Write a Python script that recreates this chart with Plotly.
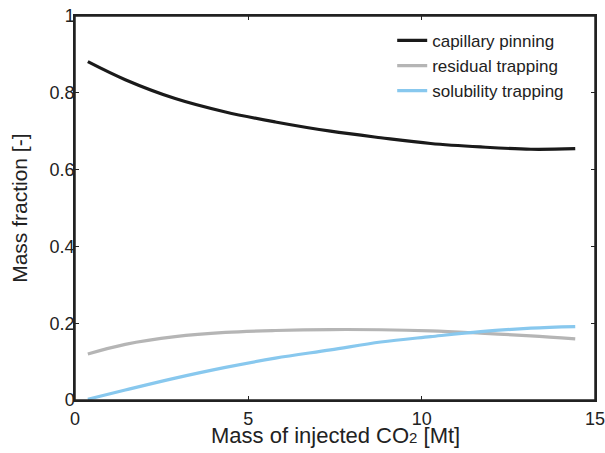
import plotly.graph_objects as go

x_vals = [0.37, 1.45, 2.89, 4.34, 5.78, 7.37, 8.82, 10.26, 11.7, 13.15, 14.43]
capillary = [0.881, 0.834, 0.785, 0.750, 0.724, 0.700, 0.683, 0.668, 0.659, 0.653, 0.6545]
residual = [0.120, 0.145, 0.165, 0.176, 0.181, 0.1835, 0.183, 0.180, 0.174, 0.167, 0.159]
solubility = [0.002, 0.026, 0.057, 0.085, 0.109, 0.1305, 0.151, 0.165, 0.178, 0.187, 0.191]

x_ticks = [0, 5, 10, 15]
y_ticks = [0, 0.2, 0.4, 0.6, 0.8, 1]
y_tick_text = ["0", "0.2", "0.4", "0.6", "0.8", "1"]

x_title = "Mass of injected CO<span style='font-size:15px'>2</span> [Mt]"
y_title = "Mass fraction [-]"

series = [
    ("capillary pinning", capillary, "#1a1a1a"),
    ("residual trapping", residual, "#b5b5b5"),
    ("solubility trapping", solubility, "#88c8ee"),
]

fig = go.Figure()
for name, ys, color in series:
    fig.add_trace(go.Scatter(x=x_vals, y=ys, mode="lines", name=name,
                             line=dict(color=color, width=3.2, shape="spline", smoothing=1.0)))

font_family = "Liberation Sans, Arial, Helvetica, sans-serif"
axis_common = dict(showgrid=False, zeroline=False, showline=True, linecolor="#222",
                   linewidth=1.5, mirror="ticks", ticks="inside", ticklen=4,
                   tickcolor="#222", tickwidth=1, automargin=False,
                   ticklabeloverflow="allow",
                   tickfont=dict(size=18, color="#222", family=font_family))

fig.update_layout(
    width=605, height=453,
    margin=dict(l=75, r=10, t=16, b=53),
    paper_bgcolor="white", plot_bgcolor="white",
    font=dict(family=font_family, color="#222"),
    showlegend=True,
    legend=dict(x=0.61, y=0.982, xanchor="left", yanchor="top",
                font=dict(size=17, color="#222", family=font_family),
                bgcolor="rgba(0,0,0,0)", tracegroupgap=0, itemwidth=30),
    xaxis=dict(range=[0, 15], tickvals=x_ticks, ticktext=[str(t) for t in x_ticks],
               ticklabelstandoff=2, **axis_common),
    yaxis=dict(range=[0, 1], tickvals=y_ticks, ticktext=y_tick_text,
               ticklabelstandoff=-5, **axis_common),
    shapes=[dict(type="rect", xref="paper", yref="paper", x0=0, x1=1, y0=0, y1=1,
                 line=dict(color="#222", width=1.5), fillcolor="rgba(0,0,0,0)", layer="above")],
    annotations=[
        dict(text=x_title, xref="paper", yref="paper", x=0.5, y=-0.092,
             xanchor="center", yanchor="middle", showarrow=False,
             font=dict(size=22, color="#222", family=font_family)),
        dict(text=y_title, xref="paper", yref="paper", x=-0.108, y=0.5,
             xanchor="center", yanchor="middle", showarrow=False, textangle=-90,
             font=dict(size=21, color="#222", family=font_family)),
    ],
)

# remove the default page margin so the figure fills the window exactly; hide the modebar
fig.write_html("out.html", config={"displayModeBar": False},
               post_script="document.body.style.margin='0';")
